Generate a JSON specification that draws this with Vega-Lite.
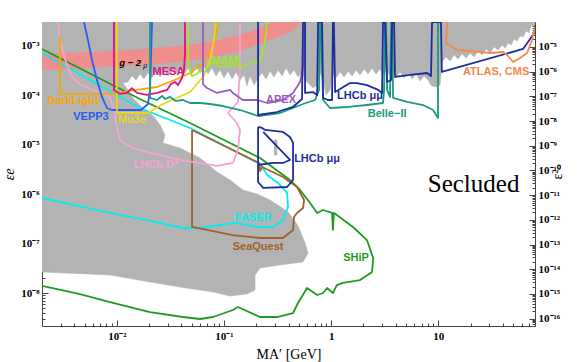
{
"$schema": "https://vega.github.io/schema/vega-lite/v6.json",
"width": 493, "height": 304,
"autosize": {"type": "none"},
"padding": {"left": 42, "top": 22, "right": 46, "bottom": 36},
"background": "white",
"config": {"view": {"stroke": null}, "axis": {"zindex": 1, "grid": false, "domainColor": "#444", "domainWidth": 1, "tickColor": "#444", "labelFont": "Liberation Serif", "labelFontWeight": "bold", "labelFontSize": 11, "labelColor": "black", "labelOverlap": false, "labelFlush": false, "titleFont": "Liberation Serif", "titleFontWeight": "normal", "titleFontSize": 14, "titleColor": "black"}},
"datasets": {
"gray": [
{"g":"a","x":0.002,"y":3.06e-3},{"g":"a","x":80,"y":3.06e-3},{"g":"a","x":80,"y":2.79e-3},{"g":"a","x":76.8,"y":2.42e-3},{"g":"a","x":73.6,"y":2.66e-3},{"g":"a","x":70.5,"y":1.83e-3},{"g":"a","x":66.1,"y":2.01e-3},{"g":"a","x":62.0,"y":1.52e-3},{"g":"a","x":58.1,"y":1.59e-3},{"g":"a","x":54.4,"y":1.26e-3},{"g":"a","x":51.0,"y":1.39e-3},{"g":"a","x":47.9,"y":1.05e-3},{"g":"a","x":44.9,"y":1.15e-3},{"g":"a","x":42.1,"y":9.11e-4},{"g":"a","x":39.4,"y":1.05e-3},{"g":"a","x":36.2,"y":8.30e-4},{"g":"a","x":33.2,"y":9.55e-4},{"g":"a","x":30.5,"y":7.22e-4},{"g":"a","x":27.95,"y":8.69e-4},{"g":"a","x":25.65,"y":6.57e-4},{"g":"a","x":23.5,"y":7.92e-4},{"g":"a","x":21.6,"y":5.99e-4},{"g":"a","x":19.8,"y":7.22e-4},{"g":"a","x":18.2,"y":5.72e-4},{"g":"a","x":16.7,"y":6.89e-4},{"g":"a","x":15.3,"y":5.46e-4},{"g":"a","x":14.05,"y":6.57e-4},{"g":"a","x":12.9,"y":4.97e-4},{"g":"a","x":11.8,"y":5.99e-4},{"g":"a","x":10.85,"y":4.74e-4},{"g":"a","x":10.4,"y":1.62e-4},{"g":"a","x":9.54,"y":1.48e-4},{"g":"a","x":8.76,"y":1.55e-4},{"g":"a","x":8.39,"y":1.70e-4},{"g":"a","x":8.04,"y":2.05e-4},{"g":"a","x":7.37,"y":2.47e-4},{"g":"a","x":6.77,"y":1.96e-4},{"g":"a","x":6.21,"y":2.71e-4},{"g":"a","x":5.70,"y":2.15e-4},{"g":"a","x":5.23,"y":2.84e-4},{"g":"a","x":4.80,"y":2.25e-4},{"g":"a","x":4.40,"y":2.98e-4},{"g":"a","x":4.04,"y":2.36e-4},{"g":"a","x":3.79,"y":2.98e-4},{"g":"a","x":3.55,"y":2.47e-4},{"g":"a","x":3.26,"y":3.27e-4},{"g":"a","x":3.05,"y":2.59e-4},{"g":"a","x":2.86,"y":3.42e-4},{"g":"a","x":2.63,"y":2.71e-4},{"g":"a","x":2.41,"y":3.59e-4},{"g":"a","x":2.21,"y":2.71e-4},{"g":"a","x":2.03,"y":3.42e-4},{"g":"a","x":1.86,"y":2.59e-4},{"g":"a","x":1.71,"y":3.27e-4},{"g":"a","x":1.57,"y":2.47e-4},{"g":"a","x":1.44,"y":3.12e-4},{"g":"a","x":1.32,"y":2.36e-4},{"g":"a","x":1.21,"y":2.98e-4},{"g":"a","x":1.11,"y":2.25e-4},{"g":"a","x":1.04,"y":2.71e-4},{"g":"a","x":0.977,"y":1.29e-4},{"g":"a","x":0.897,"y":1.02e-4},{"g":"a","x":0.841,"y":2.05e-4},{"g":"a","x":0.789,"y":2.98e-4},{"g":"a","x":0.739,"y":1.62e-4},{"g":"a","x":0.679,"y":1.41e-4},{"g":"a","x":0.623,"y":1.70e-4},{"g":"a","x":0.571,"y":2.05e-4},{"g":"a","x":0.536,"y":2.98e-4},{"g":"a","x":0.491,"y":2.36e-4},{"g":"a","x":0.451,"y":3.27e-4},{"g":"a","x":0.414,"y":2.59e-4},{"g":"a","x":0.380,"y":3.59e-4},{"g":"a","x":0.348,"y":2.47e-4},{"g":"a","x":0.320,"y":3.27e-4},{"g":"a","x":0.293,"y":2.36e-4},{"g":"a","x":0.269,"y":3.12e-4},{"g":"a","x":0.247,"y":2.15e-4},{"g":"a","x":0.227,"y":2.84e-4},{"g":"a","x":0.208,"y":2.25e-4},{"g":"a","x":0.191,"y":1.62e-4},{"g":"a","x":0.175,"y":2.47e-4},{"g":"a","x":0.164,"y":1.55e-4},{"g":"a","x":0.154,"y":2.59e-4},{"g":"a","x":0.141,"y":2.05e-4},{"g":"a","x":0.130,"y":2.98e-4},{"g":"a","x":0.119,"y":2.15e-4},{"g":"a","x":0.109,"y":3.12e-4},{"g":"a","x":0.100,"y":2.25e-4},{"g":"a","x":0.0918,"y":3.27e-4},{"g":"a","x":0.0843,"y":2.47e-4},{"g":"a","x":0.0773,"y":3.59e-4},{"g":"a","x":0.0709,"y":2.71e-4},{"g":"a","x":0.0651,"y":3.76e-4},{"g":"a","x":0.0597,"y":2.84e-4},{"g":"a","x":0.0548,"y":3.94e-4},{"g":"a","x":0.0503,"y":2.71e-4},{"g":"a","x":0.0461,"y":3.59e-4},{"g":"a","x":0.0423,"y":2.59e-4},{"g":"a","x":0.0388,"y":3.76e-4},{"g":"a","x":0.0356,"y":2.71e-4},{"g":"a","x":0.0327,"y":3.42e-4},{"g":"a","x":0.0300,"y":2.47e-4},{"g":"a","x":0.0275,"y":3.27e-4},{"g":"a","x":0.0253,"y":2.36e-4},{"g":"a","x":0.0232,"y":3.12e-4},{"g":"a","x":0.0213,"y":2.25e-4},{"g":"a","x":0.0195,"y":2.84e-4},{"g":"a","x":0.0179,"y":2.15e-4},{"g":"a","x":0.0164,"y":2.71e-4},{"g":"a","x":0.0151,"y":2.05e-4},{"g":"a","x":0.0138,"y":2.47e-4},{"g":"a","x":0.0127,"y":1.87e-4},{"g":"a","x":0.0114,"y":1.78e-4},
{"g":"a","x":0.0127,"y":1.29e-4},{"g":"a","x":0.0141,"y":8.87e-5},{"g":"a","x":0.0164,"y":6.39e-5},{"g":"a","x":0.0183,"y":5.06e-5},{"g":"a","x":0.0204,"y":4.40e-5},{"g":"a","x":0.0227,"y":3.49e-5},{"g":"a","x":0.0253,"y":2.52e-5},{"g":"a","x":0.0281,"y":1.58e-5},{"g":"a","x":0.0269,"y":1.09e-5},{"g":"a","x":0.0313,"y":9.91e-6},{"g":"a","x":0.0388,"y":8.62e-6},{"g":"a","x":0.0597,"y":5.41e-6},{"g":"a","x":0.0861,"y":2.82e-6},{"g":"a","x":0.114,"y":1.94e-6},{"g":"a","x":0.150,"y":1.22e-6},{"g":"a","x":0.204,"y":1.01e-6},{"g":"a","x":0.269,"y":7.63e-7},{"g":"a","x":0.396,"y":4.40e-7},{"g":"a","x":0.491,"y":2.31e-7},{"g":"a","x":0.571,"y":1.03e-7},{"g":"a","x":0.609,"y":6.45e-8},{"g":"a","x":0.547,"y":4.25e-8},{"g":"a","x":0.334,"y":3.69e-8},{"g":"a","x":0.217,"y":3.21e-8},{"g":"a","x":0.195,"y":2.31e-8},{"g":"a","x":0.195,"y":1.15e-8},{"g":"a","x":0.164,"y":9.55e-9},{"g":"a","x":0.114,"y":8.70e-9},{"g":"a","x":0.0790,"y":1.05e-8},{"g":"a","x":0.0388,"y":1.32e-8},{"g":"a","x":0.0204,"y":1.67e-8},{"g":"a","x":0.00862,"y":2.31e-8},{"g":"a","x":0.002,"y":2.66e-8},
{"g":"b","x":0.2933,"y":1.25e-5},{"g":"b","x":0.3128,"y":1.25e-5},{"g":"b","x":0.3128,"y":6.22e-6},{"g":"b","x":0.2933,"y":6.22e-6}
],
"band": [
{"x":0.002,"lo":3.27e-4,"hi":6.89e-4},{"x":0.00561,"lo":3.59e-4,"hi":7.56e-4},{"x":0.0141,"lo":4.12e-4,"hi":8.30e-4},{"x":0.0237,"lo":4.32e-4,"hi":9.11e-4},{"x":0.0482,"lo":4.97e-4,"hi":1.05e-3},{"x":0.0979,"lo":6.57e-4,"hi":1.39e-3},{"x":0.141,"lo":7.92e-4,"hi":1.67e-3},{"x":0.217,"lo":1.10e-3,"hi":2.31e-3},{"x":0.287,"lo":1.39e-3,"hi":3.06e-3},{"x":0.413,"lo":1.92e-3,"hi":3.06e-3},{"x":0.535,"lo":3.06e-3,"hi":3.06e-3}
],
"lines": [
{"s":"SHiP","x":0.002,"y":8.70e-4},{"s":"SHiP","x":0.0164,"y":8.47e-5},{"s":"SHiP","x":0.0482,"y":2.76e-5},{"s":"SHiP","x":0.217,"y":5.41e-6},{"s":"SHiP","x":0.413,"y":1.94e-6},{"s":"SHiP","x":0.513,"y":1.22e-6},{"s":"SHiP","x":0.636,"y":6.64e-7},{"s":"SHiP","x":0.740,"y":4.17e-7},{"s":"SHiP","x":0.841,"y":4.79e-7},{"s":"SHiP","x":1.02,"y":4.17e-7},{"s":"SHiP","x":1.04,"y":1.89e-7},{"s":"SHiP","x":1.06,"y":4.17e-7},{"s":"SHiP","x":1.13,"y":3.79e-7},{"s":"SHiP","x":1.60,"y":2.17e-7},{"s":"SHiP","x":2.16,"y":1.18e-7},{"s":"SHiP","x":2.47,"y":5.12e-8},{"s":"SHiP","x":2.41,"y":2.66e-8},{"s":"SHiP","x":1.86,"y":1.83e-8},{"s":"SHiP","x":1.29,"y":1.60e-8},{"s":"SHiP","x":1.13,"y":1.45e-8},{"s":"SHiP","x":1.04,"y":1.00e-8},{"s":"SHiP","x":0.916,"y":1.26e-8},{"s":"SHiP","x":0.841,"y":1.00e-8},{"s":"SHiP","x":0.740,"y":9.11e-9},{"s":"SHiP","x":0.596,"y":1.26e-8},{"s":"SHiP","x":0.491,"y":6.28e-9},{"s":"SHiP","x":0.441,"y":3.94e-9},{"s":"SHiP","x":0.313,"y":3.27e-9},{"s":"SHiP","x":0.217,"y":3.27e-9},{"s":"SHiP","x":0.135,"y":5.21e-9},{"s":"SHiP","x":0.121,"y":4.53e-9},{"s":"SHiP","x":0.0790,"y":3.27e-9},{"s":"SHiP","x":0.0597,"y":2.98e-9},{"s":"SHiP","x":0.0414,"y":3.27e-9},{"s":"SHiP","x":0.0204,"y":4.12e-9},{"s":"SHiP","x":0.00862,"y":6.57e-9},{"s":"SHiP","x":0.00452,"y":9.55e-9},{"s":"SHiP","x":0.002,"y":1.39e-8},
{"s":"FASER","x":0.002,"y":7.22e-4},{"s":"FASER","x":0.0164,"y":5.56e-5},{"s":"FASER","x":0.0482,"y":2.19e-5},{"s":"FASER","x":0.217,"y":4.09e-6},{"s":"FASER","x":0.253,"y":2.45e-6},{"s":"FASER","x":0.320,"y":1.69e-6},{"s":"FASER","x":0.388,"y":1.06e-6},{"s":"FASER","x":0.396,"y":5.51e-7},{"s":"FASER","x":0.355,"y":3.01e-7},{"s":"FASER","x":0.287,"y":2.17e-7},{"s":"FASER","x":0.204,"y":2.17e-7},{"s":"FASER","x":0.127,"y":2.62e-7},{"s":"FASER","x":0.0918,"y":2.38e-7},{"s":"FASER","x":0.0597,"y":2.07e-7},{"s":"FASER","x":0.0414,"y":2.07e-7},{"s":"FASER","x":0.0204,"y":2.87e-7},{"s":"FASER","x":0.00862,"y":4.17e-7},{"s":"FASER","x":0.002,"y":8.39e-7},
{"s":"SeaQuest","x":0.0503,"y":2.00e-5},{"s":"SeaQuest","x":0.213,"y":4.29e-6},{"s":"SeaQuest","x":0.217,"y":2.95e-6},{"s":"SeaQuest","x":0.227,"y":3.56e-6},{"s":"SeaQuest","x":0.355,"y":2.23e-6},{"s":"SeaQuest","x":0.480,"y":1.40e-6},{"s":"SeaQuest","x":0.559,"y":7.63e-7},{"s":"SeaQuest","x":0.547,"y":5.26e-7},{"s":"SeaQuest","x":0.480,"y":4.17e-7},{"s":"SeaQuest","x":0.450,"y":3.46e-7},{"s":"SeaQuest","x":0.441,"y":1.89e-7},{"s":"SeaQuest","x":0.355,"y":1.30e-7},{"s":"SeaQuest","x":0.217,"y":1.30e-7},{"s":"SeaQuest","x":0.121,"y":1.49e-7},{"s":"SeaQuest","x":0.0503,"y":2.17e-7},{"s":"SeaQuest","x":0.0503,"y":2.00e-5},
{"s":"LHCbD1","x":0.208,"y":2.30e-5},{"s":"LHCbD1","x":0.208,"y":1.77e-6},{"s":"LHCbD1","x":0.232,"y":1.34e-6},{"s":"LHCbD1","x":0.388,"y":1.40e-6},{"s":"LHCbD1","x":0.441,"y":1.94e-6},{"s":"LHCbD1","x":0.441,"y":1.09e-5},{"s":"LHCbD1","x":0.413,"y":1.44e-5},{"s":"LHCbD1","x":0.355,"y":1.82e-5},{"s":"LHCbD1","x":0.242,"y":2.00e-5},{"s":"LHCbD1","x":0.227,"y":2.19e-5},{"s":"LHCbD1","x":0.208,"y":2.30e-5},
{"s":"LHCbD2","x":0.208,"y":3.90e-6},{"s":"LHCbD2","x":0.287,"y":4.29e-6},{"s":"LHCbD2","x":0.355,"y":4.29e-6},{"s":"LHCbD2","x":0.413,"y":4.93e-6},{"s":"LHCbD2","x":0.232,"y":1.82e-5},
{"s":"LHCbDs","x":0.00282,"y":3.06e-3},{"s":"LHCbDs","x":0.00294,"y":1.32e-3},{"s":"LHCbDs","x":0.00314,"y":7.56e-4},{"s":"LHCbDs","x":0.00335,"y":4.75e-4},{"s":"LHCbDs","x":0.00381,"y":2.36e-4},{"s":"LHCbDs","x":0.00452,"y":1.70e-4},{"s":"LHCbDs","x":0.00586,"y":1.29e-4},{"s":"LHCbDs","x":0.00758,"y":1.12e-4},{"s":"LHCbDs","x":0.00862,"y":8.87e-5},{"s":"LHCbDs","x":0.00919,"y":6.10e-5},{"s":"LHCbDs","x":0.0096,"y":4.01e-5},{"s":"LHCbDs","x":0.0100,"y":2.30e-5},{"s":"LHCbDs","x":0.0107,"y":1.25e-5},{"s":"LHCbDs","x":0.0141,"y":8.62e-6},{"s":"LHCbDs","x":0.0204,"y":6.83e-6},{"s":"LHCbDs","x":0.0388,"y":4.93e-6},{"s":"LHCbDs","x":0.0861,"y":3.73e-6},{"s":"LHCbDs","x":0.121,"y":4.29e-6},{"s":"LHCbDs","x":0.135,"y":7.85e-6},{"s":"LHCbDs","x":0.141,"y":2.00e-5},{"s":"LHCbDs","x":0.132,"y":2.76e-5},{"s":"LHCbDs","x":0.109,"y":4.40e-5},{"s":"LHCbDs","x":0.135,"y":7.36e-5},{"s":"LHCbDs","x":0.141,"y":3.27e-4},{"s":"LHCbDs","x":0.141,"y":3.06e-3},
{"s":"DarkLight","x":0.00294,"y":1.59e-3},{"s":"DarkLight","x":0.00294,"y":1.07e-4},{"s":"DarkLight","x":0.0096,"y":1.07e-4},{"s":"DarkLight","x":0.0133,"y":1.23e-4},{"s":"DarkLight","x":0.0237,"y":1.48e-4},{"s":"DarkLight","x":0.0364,"y":2.15e-4},{"s":"DarkLight","x":0.0482,"y":2.84e-4},{"s":"DarkLight","x":0.0637,"y":4.53e-4},{"s":"DarkLight","x":0.0773,"y":8.30e-4},{"s":"DarkLight","x":0.0843,"y":1.67e-3},{"s":"DarkLight","x":0.0879,"y":3.06e-3},
{"s":"VEPP3","x":0.00493,"y":3.06e-3},{"s":"VEPP3","x":0.00537,"y":1.32e-3},{"s":"VEPP3","x":0.00586,"y":5.21e-4},{"s":"VEPP3","x":0.00652,"y":2.05e-4},{"s":"VEPP3","x":0.00726,"y":9.30e-5},{"s":"VEPP3","x":0.00808,"y":5.56e-5},{"s":"VEPP3","x":0.0090,"y":5.06e-5},{"s":"VEPP3","x":0.0168,"y":5.06e-5},{"s":"VEPP3","x":0.0195,"y":6.70e-5},{"s":"VEPP3","x":0.0204,"y":1.29e-4},{"s":"VEPP3","x":0.0208,"y":5.21e-4},{"s":"VEPP3","x":0.0213,"y":3.06e-3},
{"s":"Mu3e","x":0.0100,"y":3.06e-3},{"s":"Mu3e","x":0.0100,"y":4.40e-5},{"s":"Mu3e","x":0.0195,"y":4.40e-5},{"s":"Mu3e","x":0.0258,"y":6.39e-5},{"s":"Mu3e","x":0.0482,"y":1.17e-4},{"s":"Mu3e","x":0.0637,"y":2.36e-4},{"s":"Mu3e","x":0.0741,"y":5.21e-4},{"s":"Mu3e","x":0.0807,"y":1.32e-3},{"s":"Mu3e","x":0.0843,"y":3.06e-3},
{"s":"MESA","x":0.00939,"y":3.06e-3},{"s":"MESA","x":0.00939,"y":1.29e-4},{"s":"MESA","x":0.0107,"y":1.07e-4},{"s":"MESA","x":0.0124,"y":1.12e-4},{"s":"MESA","x":0.0138,"y":1.41e-4},{"s":"MESA","x":0.0154,"y":1.12e-4},{"s":"MESA","x":0.0191,"y":1.02e-4},{"s":"MESA","x":0.0237,"y":1.12e-4},{"s":"MESA","x":0.0294,"y":1.29e-4},{"s":"MESA","x":0.0320,"y":1.70e-4},{"s":"MESA","x":0.0349,"y":1.87e-4},{"s":"MESA","x":0.0372,"y":1.62e-4},{"s":"MESA","x":0.0405,"y":2.25e-4},{"s":"MESA","x":0.0423,"y":3.27e-4},{"s":"MESA","x":0.0432,"y":6.57e-4},{"s":"MESA","x":0.0432,"y":3.06e-3},
{"s":"MAMI","x":0.0461,"y":3.06e-3},{"s":"MAMI","x":0.0461,"y":4.12e-4},{"s":"MAMI","x":0.0503,"y":2.47e-4},{"s":"MAMI","x":0.0561,"y":2.71e-4},{"s":"MAMI","x":0.0597,"y":3.27e-4},{"s":"MAMI","x":0.0665,"y":2.98e-4},{"s":"MAMI","x":0.0773,"y":4.75e-4},{"s":"MAMI","x":0.0879,"y":3.94e-4},{"s":"MAMI","x":0.0979,"y":3.76e-4},{"s":"MAMI","x":0.121,"y":4.12e-4},{"s":"MAMI","x":0.150,"y":3.76e-4},{"s":"MAMI","x":0.187,"y":4.75e-4},{"s":"MAMI","x":0.208,"y":4.53e-4},{"s":"MAMI","x":0.227,"y":6.57e-4},{"s":"MAMI","x":0.242,"y":1.32e-3},{"s":"MAMI","x":0.253,"y":3.06e-3},
{"s":"APEX","x":0.0637,"y":3.06e-3},{"s":"APEX","x":0.0637,"y":1.70e-4},{"s":"APEX","x":0.0694,"y":1.41e-4},{"s":"APEX","x":0.0861,"y":1.12e-4},{"s":"APEX","x":0.114,"y":1.29e-4},{"s":"APEX","x":0.121,"y":1.12e-4},{"s":"APEX","x":0.150,"y":8.07e-5},{"s":"APEX","x":0.204,"y":8.07e-5},{"s":"APEX","x":0.253,"y":7.02e-5},{"s":"APEX","x":0.355,"y":8.07e-5},{"s":"APEX","x":0.441,"y":1.12e-4},{"s":"APEX","x":0.513,"y":1.87e-4},{"s":"APEX","x":0.547,"y":3.76e-4},{"s":"APEX","x":0.571,"y":3.06e-3},
{"s":"Belle","x":0.0204,"y":3.06e-3},{"s":"Belle","x":0.0204,"y":8.87e-5},{"s":"Belle","x":0.0237,"y":8.07e-5},{"s":"Belle","x":0.0264,"y":9.74e-5},{"s":"Belle","x":0.0281,"y":8.47e-5},{"s":"Belle","x":0.0313,"y":9.30e-5},{"s":"Belle","x":0.0356,"y":7.71e-5},{"s":"Belle","x":0.0414,"y":8.07e-5},{"s":"Belle","x":0.0482,"y":7.02e-5},{"s":"Belle","x":0.0597,"y":7.02e-5},{"s":"Belle","x":0.0741,"y":6.70e-5},{"s":"Belle","x":0.0979,"y":6.10e-5},{"s":"Belle","x":0.141,"y":5.06e-5},{"s":"Belle","x":0.208,"y":3.83e-5},{"s":"Belle","x":0.334,"y":4.40e-5},{"s":"Belle","x":0.441,"y":5.56e-5},{"s":"Belle","x":0.547,"y":6.70e-5},{"s":"Belle","x":0.708,"y":8.07e-5},{"s":"Belle","x":0.772,"y":1.29e-4},{"s":"Belle","x":0.789,"y":3.06e-3},{"s":"Belle","x":0.805,"y":3.06e-3},{"s":"Belle","x":0.841,"y":8.07e-5},{"s":"Belle","x":0.977,"y":5.56e-5},{"s":"Belle","x":1.44,"y":5.83e-5},{"s":"Belle","x":2.16,"y":6.39e-5},{"s":"Belle","x":3.05,"y":7.02e-5},{"s":"Belle","x":3.12,"y":1.29e-4},{"s":"Belle","x":3.19,"y":3.06e-3},{"s":"Belle","x":3.26,"y":3.06e-3},{"s":"Belle","x":3.33,"y":1.29e-4},{"s":"Belle","x":3.55,"y":9.30e-5},{"s":"Belle","x":3.63,"y":3.06e-3},{"s":"Belle","x":3.71,"y":3.06e-3},{"s":"Belle","x":3.79,"y":8.87e-5},{"s":"Belle","x":5.11,"y":7.36e-5},{"s":"Belle","x":7.23,"y":6.39e-5},{"s":"Belle","x":8.94,"y":5.06e-5},{"s":"Belle","x":9.95,"y":3.49e-5},{"s":"Belle","x":9.95,"y":3.06e-3},
{"s":"LHCbP","x":0.208,"y":3.06e-3},{"s":"LHCbP","x":0.208,"y":4.01e-5},{"s":"LHCbP","x":0.313,"y":4.61e-5},{"s":"LHCbP","x":0.441,"y":5.83e-5},{"s":"LHCbP","x":0.535,"y":8.47e-5},{"s":"LHCbP","x":0.547,"y":3.06e-3},{"s":"LHCbP","x":0.571,"y":3.06e-3},{"s":"LHCbP","x":0.571,"y":1.12e-4},{"s":"LHCbP","x":0.678,"y":1.17e-4},{"s":"LHCbP","x":0.740,"y":1.02e-4},{"s":"LHCbP","x":0.756,"y":3.06e-3},{"s":"LHCbP","x":0.823,"y":3.06e-3},{"s":"LHCbP","x":0.841,"y":8.87e-5},{"s":"LHCbP","x":0.936,"y":8.07e-5},{"s":"LHCbP","x":1.02,"y":8.07e-5},{"s":"LHCbP","x":1.04,"y":3.06e-3},{"s":"LHCbP","x":1.06,"y":3.06e-3},{"s":"LHCbP","x":1.09,"y":1.17e-4},{"s":"LHCbP","x":1.50,"y":1.78e-4},{"s":"LHCbP","x":1.74,"y":1.78e-4},{"s":"LHCbP","x":2.16,"y":1.62e-4},{"s":"LHCbP","x":2.75,"y":1.29e-4},{"s":"LHCbP","x":2.99,"y":1.12e-4},{"s":"LHCbP","x":3.05,"y":3.06e-3},{"s":"LHCbP","x":3.19,"y":3.06e-3},{"s":"LHCbP","x":3.33,"y":1.87e-4},{"s":"LHCbP","x":3.63,"y":2.05e-4},{"s":"LHCbP","x":3.71,"y":3.06e-3},{"s":"LHCbP","x":3.87,"y":3.06e-3},{"s":"LHCbP","x":3.95,"y":2.36e-4},{"s":"LHCbP","x":5.46,"y":2.59e-4},{"s":"LHCbP","x":7.88,"y":2.84e-4},{"s":"LHCbP","x":8.56,"y":2.47e-4},{"s":"LHCbP","x":8.75,"y":3.06e-3},{"s":"LHCbP","x":10.6,"y":3.06e-3},{"s":"LHCbP","x":10.8,"y":2.98e-4},{"s":"LHCbP","x":61.9,"y":8.70e-4},{"s":"LHCbP","x":80,"y":1.92e-3},
{"s":"ATLAS","x":12.1,"y":3.06e-3},{"s":"ATLAS","x":11.8,"y":1.15e-3},{"s":"ATLAS","x":15.0,"y":8.30e-4},{"s":"ATLAS","x":24.6,"y":7.56e-4},{"s":"ATLAS","x":30.5,"y":7.22e-4},{"s":"ATLAS","x":40.3,"y":7.56e-4},{"s":"ATLAS","x":43.9,"y":6.57e-4},{"s":"ATLAS","x":50.0,"y":4.75e-4},{"s":"ATLAS","x":58.1,"y":5.72e-4},{"s":"ATLAS","x":67.5,"y":7.22e-4},{"s":"ATLAS","x":75.2,"y":1.32e-3},{"s":"ATLAS","x":80,"y":2.43e-3}
],
"labels": [
{"t":"DarkLight","s":"DarkLight","x":0.00389,"y":7.71e-5},
{"t":"VEPP3","s":"VEPP3","x":0.00573,"y":3.65e-5},
{"t":"Mu3e","s":"Mu3e","x":0.01384,"y":3.18e-5},
{"t":"MESA","s":"MESA","x":0.0303,"y":2.98e-4},
{"t":"MAMI","s":"MAMI","x":0.1045,"y":4.97e-4},
{"t":"APEX","s":"APEX","x":0.341,"y":8.07e-5},
{"t":"LHCb μμ","s":"LHCbP","x":1.86,"y":9.95e-5},
{"t":"Belle−II","s":"Belle","x":3.33,"y":4.20e-5},
{"t":"ATLAS, CMS","s":"ATLAS","x":34.66,"y":2.98e-4},
{"t":"LHCb μμ","s":"LHCbP","x":0.739,"y":5.05e-6},
{"t":"LHCb D*","s":"LHCbDs","x":0.0232,"y":3.90e-6},
{"t":"FASER","s":"FASER","x":0.187,"y":3.30e-7},
{"t":"SeaQuest","s":"SeaQuest","x":0.208,"y":8.54e-8},
{"t":"SHiP","s":"SHiP","x":1.708,"y":5.12e-8}
]
},
"layer": [
{"data": {"name": "gray"},
 "mark": {"type": "line", "fill": "#b3b3b3", "stroke": "#b3b3b3", "strokeWidth": 0.5, "clip": true},
 "encoding": {
  "x": {"field": "x", "type": "quantitative", "scale": {"type": "log", "domain": [0.002, 80], "nice": false},
        "axis": {"orient": "bottom", "values": [0.01, 0.1, 1, 10], "ticks": false, "domain": true, "labelPadding": 4, "labelExpr": "datum.value < 0.05 ? '10⁻²' : datum.value < 0.5 ? '10⁻¹' : datum.value < 5 ? '1' : '10'", "title": "MA′ [GeV]", "titlePadding": 6}},
  "y": {"field": "y", "type": "quantitative", "scale": {"type": "log", "domain": [2.15e-9, 3.06e-3], "nice": false},
        "axis": {"orient": "left", "values": [1e-3, 1e-4, 1e-5, 1e-6, 1e-7, 1e-8], "ticks": false, "domain": true, "labelPadding": 3, "labelExpr": "'10⁻' + ['⁰','¹','²','³','⁴','⁵','⁶','⁷','⁸','⁹'][round(-log(datum.value)/LN10)]", "title": "εe", "titleFontStyle": "italic", "titlePadding": 4}},
  "detail": {"field": "g"},
  "order": {"value": null}
 }},
{"data": {"name": "band"},
 "mark": {"type": "area", "color": "#f08d8d", "clip": true},
 "encoding": {
  "x": {"field": "x", "type": "quantitative", "scale": {"type": "log", "domain": [0.002, 80], "nice": false},
        "axis": {"orient": "bottom", "values": [0.01, 0.1, 1, 10], "labels": false, "domain": false, "tickSize": -6, "title": null}},
  "y": {"field": "lo", "type": "quantitative", "scale": {"type": "log", "domain": [2.15e-9, 3.06e-3], "nice": false},
        "axis": {"orient": "left", "values": [1e-3, 1e-4, 1e-5, 1e-6, 1e-7, 1e-8], "labels": false, "domain": false, "tickSize": -6, "title": null}},
  "y2": {"field": "hi"}
 }},
{"data": {"name": "lines"},
 "mark": {"type": "line", "strokeWidth": 1.8, "clip": true, "strokeJoin": "round"},
 "encoding": {
  "x": {"field": "x", "type": "quantitative", "scale": {"type": "log", "domain": [0.002, 80], "nice": false},
        "axis": {"orient": "bottom", "values": [0.003,0.004,0.005,0.006,0.007,0.008,0.009,0.02,0.03,0.04,0.05,0.06,0.07,0.08,0.09,0.2,0.3,0.4,0.5,0.6,0.7,0.8,0.9,2,3,4,5,6,7,8,9,20,30,40,50,60,70], "labels": false, "domain": false, "tickSize": -3, "title": null}},
  "y": {"field": "y", "type": "quantitative", "scale": {"type": "log", "domain": [2.15e-9, 3.06e-3], "nice": false},
        "axis": {"orient": "left", "values": [3e-9,4e-9,5e-9,6e-9,7e-9,8e-9,9e-9,2e-8,3e-8,4e-8,5e-8,6e-8,7e-8,8e-8,9e-8,2e-7,3e-7,4e-7,5e-7,6e-7,7e-7,8e-7,9e-7,2e-6,3e-6,4e-6,5e-6,6e-6,7e-6,8e-6,9e-6,2e-5,3e-5,4e-5,5e-5,6e-5,7e-5,8e-5,9e-5,2e-4,3e-4,4e-4,5e-4,6e-4,7e-4,8e-4,9e-4,2e-3,3e-3], "labels": false, "domain": false, "tickSize": -3, "title": null}},
  "color": {"field": "s", "type": "nominal", "legend": null,
   "scale": {"domain": ["SHiP","FASER","SeaQuest","LHCbD1","LHCbD2","LHCbP","LHCbDs","DarkLight","VEPP3","Mu3e","MESA","MAMI","APEX","Belle","ATLAS"],
             "range": ["#1f9c1f","#00eeee","#a0622d","#1e2d9c","#1e2d9c","#1e2d9c","#f7a1d3","#f9a602","#2a5ef0","#e6d61c","#e0127c","#a4e32b","#9b5cbf","#1b9b7f","#f4884c"]}},
  "order": {"value": null}
 }},
{"data": {"name": "labels"},
 "mark": {"type": "text", "font": "Liberation Sans", "fontWeight": "bold", "fontSize": 11, "align": "center", "baseline": "middle"},
 "encoding": {
  "x": {"field": "x", "type": "quantitative", "scale": {"type": "log", "domain": [0.002, 80], "nice": false},
        "axis": {"orient": "top", "values": [0.01, 0.1, 1, 10], "labels": false, "domain": true, "tickSize": -6, "title": null}},
  "y": {"field": "y", "type": "quantitative", "scale": {"type": "log", "domain": [2.15e-9, 3.06e-3], "nice": false},
        "axis": {"orient": "right", "values": [9.576e-4,3.0282e-4,9.576e-5,3.0282e-5,9.576e-6,3.0282e-6,9.576e-7,3.0282e-7,9.576e-8,3.0282e-8,9.576e-9,3.0282e-9], "ticks": false, "domain": true, "labelPadding": 3, "labelExpr": "'10⁻' + (round(-log(datum.value*datum.value/0.0917)/LN10) >= 10 ? '¹' + ['⁰','¹','²','³','⁴','⁵','⁶','⁷','⁸','⁹'][round(-log(datum.value*datum.value/0.0917)/LN10) - 10] : ['⁰','¹','²','³','⁴','⁵','⁶','⁷','⁸','⁹'][round(-log(datum.value*datum.value/0.0917)/LN10)])", "title": "ε²", "titleAngle": 270, "titlePadding": 4}},
  "text": {"field": "t"},
  "color": {"field": "s", "type": "nominal", "legend": null,
   "scale": {"domain": ["SHiP","FASER","SeaQuest","LHCbD1","LHCbD2","LHCbP","LHCbDs","DarkLight","VEPP3","Mu3e","MESA","MAMI","APEX","Belle","ATLAS"],
             "range": ["#1f9c1f","#00eeee","#a0622d","#1e2d9c","#1e2d9c","#1e2d9c","#f7a1d3","#f9a602","#2a5ef0","#e6d61c","#e0127c","#a4e32b","#9b5cbf","#1b9b7f","#f4884c"]}}
 }},
{"data": {"values": [{"t": "g − 2", "x": 0.0133, "y": 4.53e-4}]},
 "mark": {"type": "text", "font": "Liberation Sans", "fontWeight": "bold", "fontStyle": "italic", "fontSize": 9.5, "align": "center", "baseline": "middle", "color": "black"},
 "encoding": {
  "x": {"field": "x", "type": "quantitative", "scale": {"type": "log", "domain": [0.002, 80], "nice": false},
        "axis": {"orient": "top", "values": [0.003,0.004,0.005,0.006,0.007,0.008,0.009,0.02,0.03,0.04,0.05,0.06,0.07,0.08,0.09,0.2,0.3,0.4,0.5,0.6,0.7,0.8,0.9,2,3,4,5,6,7,8,9,20,30,40,50,60,70], "labels": false, "domain": false, "tickSize": -3, "title": null}},
  "y": {"field": "y", "type": "quantitative", "scale": {"type": "log", "domain": [2.15e-9, 3.06e-3], "nice": false},
        "axis": {"orient": "right", "values": [9.576e-4,3.0282e-4,9.576e-5,3.0282e-5,9.576e-6,3.0282e-6,9.576e-7,3.0282e-7,9.576e-8,3.0282e-8,9.576e-9,3.0282e-9], "labels": false, "domain": false, "tickSize": -6, "title": null}},
  "text": {"field": "t"}
 }},
{"data": {"values": [{"t": "μ", "x": 0.0184, "y": 3.85e-4}]},
 "mark": {"type": "text", "font": "Liberation Sans", "fontStyle": "italic", "fontSize": 7, "align": "center", "baseline": "middle", "color": "black"},
 "encoding": {
  "x": {"field": "x", "type": "quantitative", "scale": {"type": "log", "domain": [0.002, 80], "nice": false}, "axis": null},
  "y": {"field": "y", "type": "quantitative", "scale": {"type": "log", "domain": [2.15e-9, 3.06e-3], "nice": false},
        "axis": {"orient": "right", "values": [1.3543e-3,1.6586e-3,1.9152e-3,2.1413e-3,2.3456e-3,2.5336e-3,2.7085e-3,2.8728e-3,4.2825e-4,5.2450e-4,6.0564e-4,6.7714e-4,7.4176e-4,8.0120e-4,8.5650e-4,9.0846e-4,1.3543e-4,1.6586e-4,1.9152e-4,2.1413e-4,2.3456e-4,2.5336e-4,2.7085e-4,2.8728e-4,4.2825e-5,5.2450e-5,6.0564e-5,6.7714e-5,7.4176e-5,8.0120e-5,8.5650e-5,9.0846e-5,1.3543e-5,1.6586e-5,1.9152e-5,2.1413e-5,2.3456e-5,2.5336e-5,2.7085e-5,2.8728e-5,4.2825e-6,5.2450e-6,6.0564e-6,6.7714e-6,7.4176e-6,8.0120e-6,8.5650e-6,9.0846e-6,1.3543e-6,1.6586e-6,1.9152e-6,2.1413e-6,2.3456e-6,2.5336e-6,2.7085e-6,2.8728e-6,4.2825e-7,5.2450e-7,6.0564e-7,6.7714e-7,7.4176e-7,8.0120e-7,8.5650e-7,9.0846e-7,1.3543e-7,1.6586e-7,1.9152e-7,2.1413e-7,2.3456e-7,2.5336e-7,2.7085e-7,2.8728e-7,4.2825e-8,5.2450e-8,6.0564e-8,6.7714e-8,7.4176e-8,8.0120e-8,8.5650e-8,9.0846e-8,1.3543e-8,1.6586e-8,1.9152e-8,2.1413e-8,2.3456e-8,2.5336e-8,2.7085e-8,2.8728e-8,4.2825e-9,5.2450e-9,6.0564e-9,6.7714e-9,7.4176e-9,8.0120e-9,8.5650e-9,9.0846e-9,2.3456e-9,2.5336e-9,2.7085e-9,2.8728e-9], "labels": false, "domain": false, "tickSize": -3, "title": null}},
  "text": {"field": "t"}
 }},
{"data": {"values": [{"t": "Secluded", "x": 21.36, "y": 1.108e-6}]},
 "mark": {"type": "text", "font": "Liberation Serif", "fontSize": 25, "align": "center", "baseline": "alphabetic", "color": "black"},
 "encoding": {
  "x": {"field": "x", "type": "quantitative", "scale": {"type": "log", "domain": [0.002, 80], "nice": false}, "axis": null},
  "y": {"field": "y", "type": "quantitative", "scale": {"type": "log", "domain": [2.15e-9, 3.06e-3], "nice": false}, "axis": null},
  "text": {"field": "t"}
 }}
],
"resolve": {"axis": {"x": "independent", "y": "independent"}}
}
